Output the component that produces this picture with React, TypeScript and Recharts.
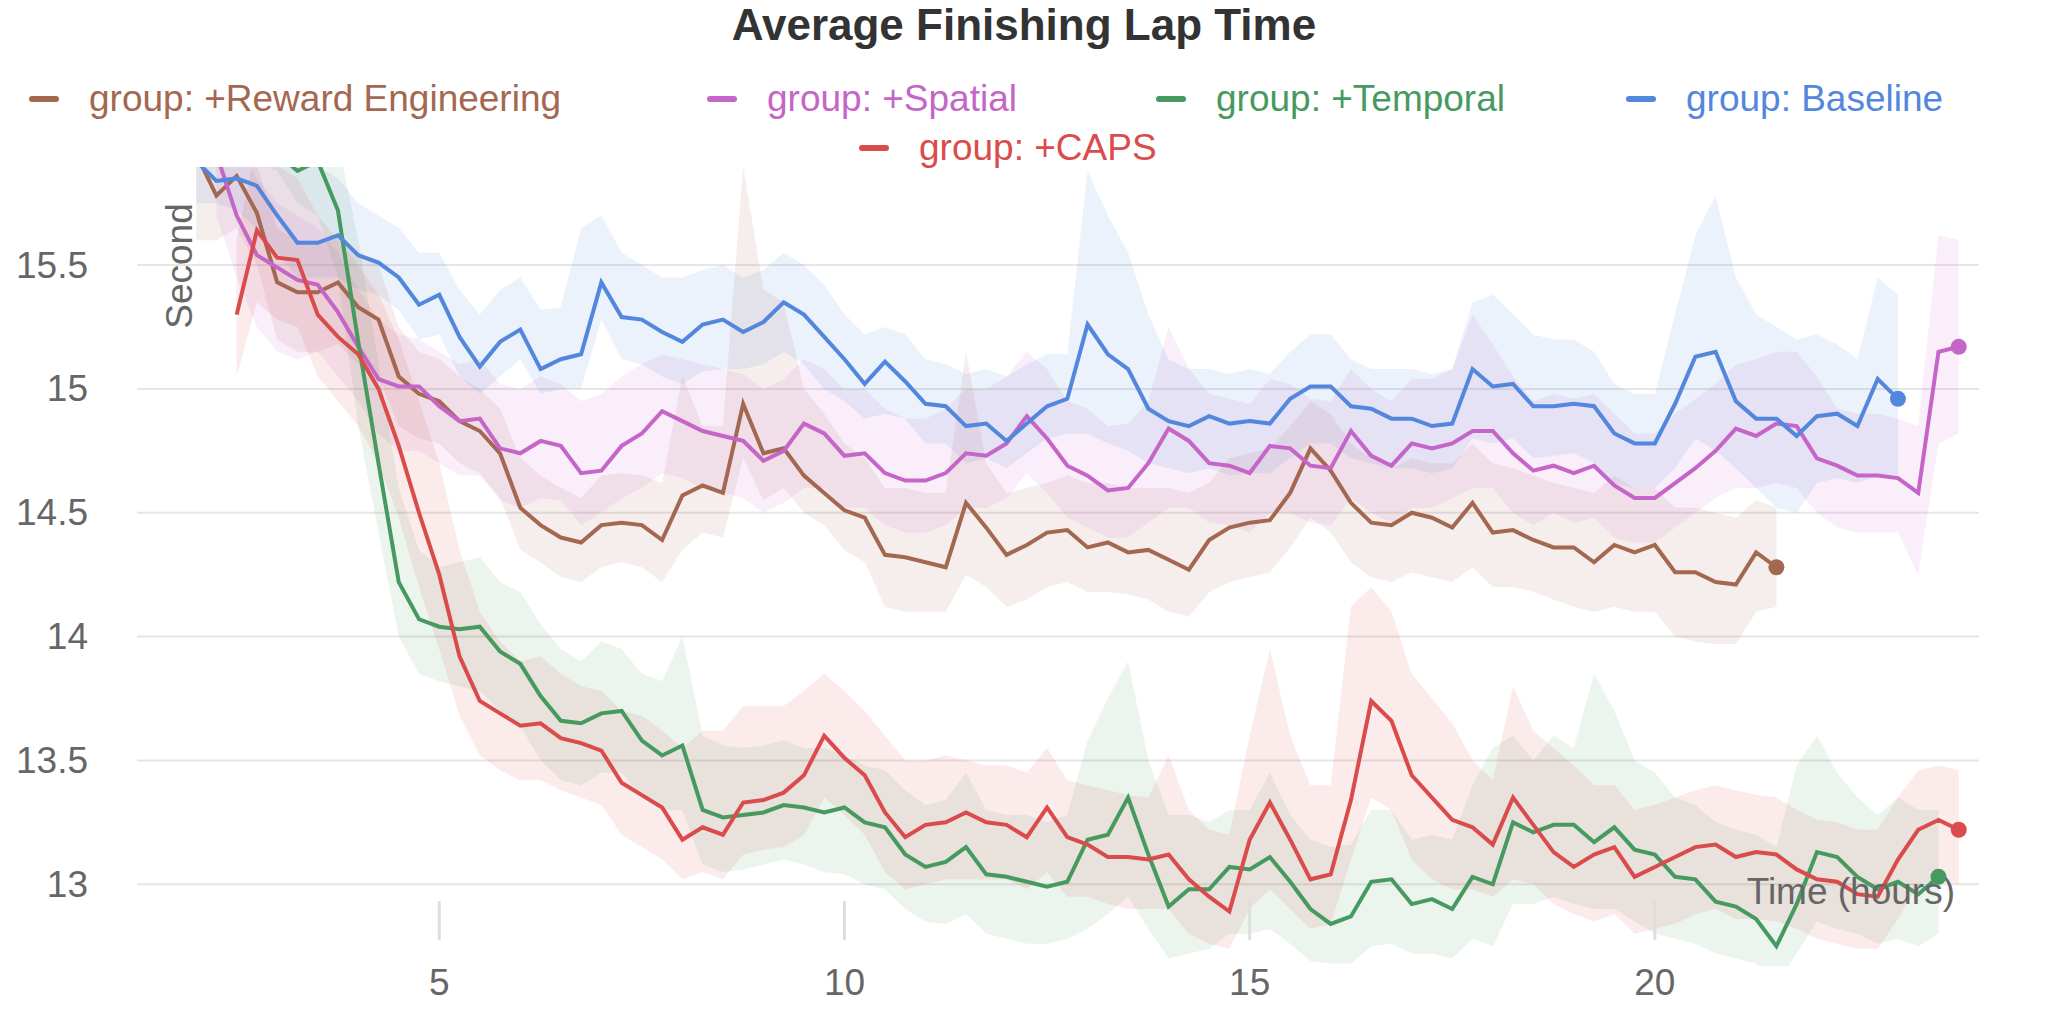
import React from 'react';
import { ComposedChart, Line, Area, XAxis, YAxis, CartesianGrid } from 'recharts';

// time axis, hours
const hours = [
  2, 2.25, 2.5, 2.75, 3, 3.25, 3.5, 3.75, 4, 4.25, 4.5, 4.75, 5, 5.25, 5.5, 5.75, 6, 6.25, 6.5, 6.75,
  7, 7.25, 7.5, 7.75, 8, 8.25, 8.5, 8.75, 9, 9.25, 9.5, 9.75, 10, 10.25, 10.5, 10.75, 11, 11.25, 11.5, 11.75,
  12, 12.25, 12.5, 12.75, 13, 13.25, 13.5, 13.75, 14, 14.25, 14.5, 14.75, 15, 15.25, 15.5, 15.75, 16, 16.25, 16.5, 16.75,
  17, 17.25, 17.5, 17.75, 18, 18.25, 18.5, 18.75, 19, 19.25, 19.5, 19.75, 20, 20.25, 20.5, 20.75, 21, 21.25, 21.5, 21.75,
  22, 22.25, 22.5, 22.75, 23, 23.25, 23.5, 23.75,
];

const N9 = [null, null, null, null, null, null, null, null, null];

// group: +Reward Engineering
const rewardMean = [
  15.95, 15.78, 15.86, 15.71, 15.43, 15.39, 15.39, 15.43, 15.33, 15.28, 15.05, 14.98, 14.95, 14.87, 14.83, 14.74, 14.52, 14.45, 14.4, 14.38, 14.45,
  14.46, 14.45, 14.39, 14.57, 14.61, 14.58, 14.94, 14.74, 14.76, 14.65, 14.58, 14.51, 14.48, 14.33, 14.32, 14.3, 14.28, 14.54, 14.44, 14.33, 14.37, 14.42, 14.43,
  14.36, 14.38, 14.34, 14.35, 14.31, 14.27, 14.39, 14.44, 14.46, 14.47, 14.58, 14.76, 14.67, 14.54, 14.46, 14.45, 14.5, 14.48, 14.44, 14.54, 14.42, 14.43, 14.39,
  14.36, 14.36, 14.3, 14.37, 14.34, 14.37, 14.26, 14.26, 14.22, 14.21, 14.34, 14.28, ...N9,
];
const rewardHi = [
  16.0, 16.0, 16.0, 15.9, 15.65, 15.6, 15.6, 15.62, 15.55, 15.5, 15.25, 15.15, 15.12, 15.05, 15.0, 14.92, 14.72, 14.65, 14.6, 14.56, 14.65,
  14.66, 14.65, 14.62, 15.05, 14.85, 14.85, 15.9, 15.4, 15.35, 15.0, 14.9, 14.78, 14.72, 14.6, 14.6, 14.58, 14.58, 15.15, 14.7, 14.58, 14.6, 14.62, 14.65,
  14.62, 14.62, 14.6, 14.6, 14.6, 14.58, 14.62, 14.72, 14.74, 14.76, 14.85, 14.95, 14.9, 14.78, 14.72, 14.68, 14.72, 14.7, 14.7, 14.78, 14.7, 14.68, 14.65,
  14.62, 14.6, 14.58, 14.65, 14.6, 14.6, 14.52, 14.52, 14.5, 14.48, 14.55, 14.52, ...N9,
];
const rewardLo = [
  15.6, 15.6, 15.65, 15.5, 15.2, 15.15, 15.15, 15.18, 15.1, 15.05, 14.85, 14.8, 14.78, 14.7, 14.66, 14.56, 14.35, 14.3, 14.24, 14.22, 14.28,
  14.3, 14.28, 14.22, 14.35, 14.42, 14.4, 14.72, 14.55, 14.6, 14.5, 14.45, 14.35, 14.3, 14.12, 14.1, 14.1, 14.1, 14.25, 14.2, 14.12, 14.15, 14.2, 14.22,
  14.18, 14.18, 14.17, 14.15, 14.1, 14.08, 14.18, 14.22, 14.24, 14.26, 14.36, 14.48, 14.42, 14.3, 14.24, 14.22, 14.26, 14.24, 14.22, 14.28, 14.2, 14.2, 14.18,
  14.15, 14.12, 14.1, 14.12, 14.1, 14.1, 14.0, 13.98, 13.97, 13.97, 14.1, 14.12, ...N9,
];

// group: +Spatial
const spatialMean = [
  null, 15.95, 15.7, 15.54, 15.49, 15.44, 15.42, 15.31, 15.17, 15.04, 15.01, 15.01, 14.93, 14.87, 14.88, 14.76, 14.74, 14.79, 14.77, 14.66, 14.67,
  14.77, 14.82, 14.91, 14.87, 14.83, 14.81, 14.79, 14.71, 14.75, 14.86, 14.82, 14.73, 14.74, 14.66, 14.63, 14.63, 14.66, 14.74, 14.73, 14.78, 14.89, 14.8, 14.69,
  14.65, 14.59, 14.6, 14.7, 14.84, 14.79, 14.7, 14.69, 14.66, 14.77, 14.76, 14.69, 14.68, 14.83, 14.73, 14.69, 14.78, 14.76, 14.78, 14.83, 14.83, 14.74, 14.67,
  14.69, 14.66, 14.69, 14.61, 14.56, 14.56, 14.62, 14.68, 14.75, 14.84, 14.81, 14.86, 14.85, 14.72, 14.69, 14.65, 14.65, 14.64, 14.58, 15.15, 15.17,
];
const spatialHi = [
  null, 16.0, 16.0, 15.85, 15.75, 15.7, 15.65, 15.55, 15.4, 15.28, 15.22, 15.2, 15.15, 15.1, 15.12, 15.02, 15.0, 15.05, 15.02, 14.95, 14.98,
  15.05, 15.1, 15.14, 15.12, 15.1, 15.08, 15.06, 15.0, 15.04, 15.12, 15.08, 15.0, 15.0, 14.92, 14.88, 14.88, 14.92, 15.0, 15.0, 15.05, 15.15, 15.08, 14.95,
  14.92, 14.85, 14.86, 14.95, 15.25, 15.08, 14.98, 14.96, 14.94, 15.04, 15.02, 14.96, 14.95, 15.08, 15.0, 14.95, 15.04, 15.04, 15.08, 15.3, 15.18, 15.05, 14.95,
  14.98, 14.96, 14.98, 14.9, 14.82, 14.82, 14.9, 14.96, 15.02, 15.1, 15.12, 15.15, 15.15, 15.05, 14.92, 14.9, 14.9, 14.88, 14.85, 15.62, 15.6,
];
const spatialLo = [
  null, 15.7, 15.45, 15.25, 15.15, 15.12, 15.15, 15.05, 14.95, 14.82, 14.75, 14.75, 14.7, 14.65, 14.65, 14.55, 14.52, 14.56, 14.55, 14.45, 14.5,
  14.56, 14.6, 14.66, 14.64, 14.6, 14.58, 14.56, 14.5, 14.54, 14.6, 14.6, 14.52, 14.52, 14.45, 14.42, 14.42, 14.45, 14.52, 14.52, 14.56, 14.66, 14.58, 14.48,
  14.44, 14.4, 14.4, 14.46, 14.52, 14.52, 14.46, 14.45, 14.42, 14.5, 14.5, 14.46, 14.45, 14.56, 14.5, 14.46, 14.52, 14.52, 14.56, 14.6, 14.6, 14.5, 14.45,
  14.5, 14.46, 14.48, 14.4, 14.38, 14.38, 14.44, 14.5, 14.56, 14.6, 14.6, 14.62, 14.6, 14.5, 14.44, 14.42, 14.42, 14.42, 14.25, 14.78, 14.82,
];

// group: +Temporal
const temporalMean = [
  16.1, 16.05, 16.0, 15.98, 15.95, 15.88, 15.92, 15.72, 15.19, 14.7, 14.22, 14.07, 14.04, 14.03, 14.04, 13.94, 13.89, 13.76, 13.66, 13.65, 13.69,
  13.7, 13.58, 13.52, 13.56, 13.3, 13.27, 13.28, 13.29, 13.32, 13.31, 13.29, 13.31, 13.25, 13.23, 13.12, 13.07, 13.09, 13.15, 13.04, 13.03, 13.01, 12.99, 13.01,
  13.18, 13.2, 13.35, 13.12, 12.91, 12.98, 12.98, 13.07, 13.06, 13.11, 13.01, 12.9, 12.84, 12.87, 13.01, 13.02, 12.92, 12.94, 12.9, 13.03, 13.0, 13.25, 13.21,
  13.24, 13.24, 13.17, 13.23, 13.14, 13.12, 13.03, 13.02, 12.93, 12.91, 12.86, 12.75, 12.92, 13.13, 13.11, 13.03, 12.98, 13.01, 12.96, 13.03, null,
];
const temporalHi = [
  16.2, 16.2, 16.2, 16.2, 16.2, 16.1, 16.1, 16.0, 15.6, 15.1, 14.6, 14.35, 14.28, 14.3, 14.32, 14.22, 14.18, 14.05, 13.95, 13.9, 13.98,
  13.95, 13.85, 13.82, 14.0, 13.6, 13.56, 13.55, 13.56, 13.58, 13.55, 13.55, 13.52, 13.48, 13.46, 13.38, 13.32, 13.34, 13.45, 13.3, 13.28, 13.28, 13.25, 13.28,
  13.58, 13.75, 13.9, 13.5, 13.28, 13.28, 13.25, 13.3, 13.3, 13.45, 13.28, 13.18, 13.15, 13.16, 13.3, 13.3, 13.18, 13.2, 13.18, 13.4, 13.55, 13.6, 13.5,
  13.6, 13.55, 13.85, 13.7, 13.5, 13.45, 13.35, 13.32, 13.25, 13.22, 13.2, 13.15, 13.48, 13.6, 13.45, 13.35, 13.28, 13.35, 13.3, 13.3, null,
];
const temporalLo = [
  16.0, 16.0, 15.95, 15.92, 15.88, 15.75, 15.7, 15.45, 14.85, 14.42, 14.0, 13.85, 13.82, 13.8, 13.78, 13.7, 13.64, 13.5, 13.42, 13.4, 13.45,
  13.45, 13.35, 13.3, 13.3, 13.08, 13.05, 13.06, 13.08, 13.1, 13.08, 13.05, 13.04, 13.0, 12.98, 12.9, 12.85, 12.84, 12.88, 12.8, 12.78, 12.76, 12.76, 12.78,
  12.82, 12.88, 12.95, 12.82, 12.7, 12.72, 12.74, 12.8, 12.8, 12.82, 12.76, 12.69, 12.68, 12.68, 12.75, 12.76, 12.72, 12.72, 12.7, 12.78, 12.75, 12.92, 12.92,
  12.95, 12.92, 12.9, 12.9, 12.85, 12.8, 12.78, 12.76, 12.72, 12.7, 12.68, 12.6, 12.72, 12.85, 12.82, 12.8, 12.76, 12.78, 12.75, 12.8, null,
];

// group: Baseline
const baselineMean = [
  15.92, 15.84, 15.85, 15.82, 15.7, 15.59, 15.59, 15.62, 15.54, 15.51, 15.45, 15.34, 15.38, 15.21, 15.09, 15.19, 15.24, 15.08, 15.12, 15.14, 15.43,
  15.29, 15.28, 15.23, 15.19, 15.26, 15.28, 15.23, 15.27, 15.35, 15.3, 15.21, 15.12, 15.02, 15.11, 15.03, 14.94, 14.93, 14.85, 14.86, 14.79, 14.86, 14.93, 14.96,
  15.26, 15.14, 15.08, 14.92, 14.87, 14.85, 14.89, 14.86, 14.87, 14.86, 14.96, 15.01, 15.01, 14.93, 14.92, 14.88, 14.88, 14.85, 14.86, 15.08, 15.01, 15.02, 14.93,
  14.93, 14.94, 14.93, 14.82, 14.78, 14.78, 14.94, 15.13, 15.15, 14.95, 14.88, 14.88, 14.81, 14.89, 14.9, 14.85, 15.04, 14.96, null, null, null,
];
const baselineHi = [
  16.0, 16.0, 16.0, 16.0, 15.95, 15.9, 15.9, 15.85, 15.75, 15.7, 15.65, 15.55, 15.55, 15.4, 15.3, 15.4, 15.45, 15.32, 15.33, 15.65, 15.7,
  15.55, 15.5, 15.45, 15.45, 15.48, 15.5, 15.45, 15.48, 15.55, 15.5, 15.42, 15.3, 15.22, 15.25, 15.22, 15.12, 15.1, 15.06, 15.08, 15.05, 15.1, 15.14, 15.14,
  15.88, 15.7, 15.55, 15.3, 15.12, 15.08, 15.08, 15.06, 15.08, 15.06, 15.15, 15.22, 15.22, 15.12, 15.08, 15.08, 15.08, 15.06, 15.08, 15.35, 15.38, 15.3, 15.22,
  15.2, 15.2, 15.15, 15.02, 14.98, 14.98, 15.3, 15.62, 15.78, 15.45, 15.3, 15.25, 15.2, 15.22, 15.18, 15.12, 15.45, 15.38, null, null, null,
];
const baselineLo = [
  15.75, 15.75, 15.72, 15.65, 15.55, 15.45, 15.45, 15.45, 15.4, 15.38, 15.32, 15.2, 15.22, 15.05, 14.98, 15.05, 15.12, 14.98, 15.0, 15.0, 15.28,
  15.12, 15.1, 15.05, 15.02, 15.07, 15.08, 15.08, 15.1, 15.15, 15.1, 15.0, 14.95, 14.88, 14.9, 14.88, 14.78, 14.78, 14.7, 14.72, 14.68, 14.74, 14.8, 14.82,
  14.82, 14.78, 14.75, 14.7, 14.68, 14.66, 14.68, 14.65, 14.66, 14.66, 14.72, 14.78, 14.78, 14.72, 14.7, 14.68, 14.68, 14.66, 14.68, 14.8, 14.78, 14.8, 14.72,
  14.73, 14.74, 14.7, 14.62, 14.6, 14.6, 14.68, 14.8, 14.75, 14.68, 14.6, 14.52, 14.5, 14.62, 14.64, 14.62, 14.65, 14.65, null, null, null,
];

// group: +CAPS
const capsMean = [
  null, null, 15.3, 15.64, 15.53, 15.52, 15.3, 15.21, 15.14, 15.0, 14.77, 14.5, 14.25, 13.92, 13.74, 13.69, 13.64, 13.65, 13.59, 13.57, 13.54,
  13.41, 13.36, 13.31, 13.18, 13.23, 13.2, 13.33, 13.34, 13.37, 13.44, 13.6, 13.51, 13.44, 13.29, 13.19, 13.24, 13.25, 13.29, 13.25, 13.24, 13.19, 13.31, 13.19,
  13.16, 13.11, 13.11, 13.1, 13.12, 13.02, 12.95, 12.89, 13.18, 13.33, 13.18, 13.02, 13.04, 13.34, 13.74, 13.66, 13.44, 13.35, 13.26, 13.23, 13.16, 13.35, 13.24,
  13.13, 13.07, 13.12, 13.15, 13.03, 13.07, 13.11, 13.15, 13.16, 13.11, 13.13, 13.12, 13.06, 13.02, 13.01, 12.96, 12.95, 13.1, 13.22, 13.26, 13.22,
];
const capsHi = [
  null, null, 15.6, 16.0, 15.9, 15.85, 15.7, 15.6, 15.5, 15.38, 15.2, 14.95, 14.7, 14.35, 14.1, 13.98, 13.9, 13.92, 13.85, 13.8, 13.78,
  13.7, 13.68, 13.62, 13.55, 13.62, 13.62, 13.72, 13.72, 13.72, 13.78, 13.85, 13.78, 13.7, 13.6, 13.5, 13.5, 13.52, 13.5, 13.48, 13.48, 13.45, 13.55, 13.42,
  13.4, 13.38, 13.36, 13.35, 13.52, 13.3, 13.22, 13.2, 13.6, 13.95, 13.6, 13.4, 13.4, 14.12, 14.2, 14.1, 13.85, 13.75, 13.65, 13.5, 13.42, 13.8, 13.62,
  13.55, 13.48, 13.4, 13.4, 13.3, 13.32, 13.35, 13.38, 13.4, 13.38, 13.36, 13.35, 13.3, 13.26, 13.25, 13.22, 13.22, 13.35, 13.46, 13.48, 13.46,
];
const capsLo = [
  null, null, 15.05, 15.35, 15.28, 15.25, 15.05, 14.95, 14.85, 14.7, 14.48, 14.2, 13.95, 13.68, 13.52, 13.46, 13.42, 13.42, 13.38, 13.35, 13.32,
  13.2, 13.15, 13.1, 13.02, 13.05, 13.02, 13.12, 13.14, 13.15, 13.2, 13.35, 13.28, 13.2, 13.05, 12.98, 13.0, 13.02, 13.02, 13.02, 13.02, 12.98, 13.05, 12.95,
  12.95, 12.92, 12.9, 12.9, 12.9, 12.8, 12.76, 12.74, 12.9, 12.98, 12.9, 12.82, 12.84, 13.1, 13.35, 13.3, 13.1, 13.02, 12.98, 12.98, 12.95, 13.02, 13.0,
  12.92, 12.88, 12.85, 12.88, 12.8, 12.82, 12.84, 12.88, 12.9, 12.86, 12.86, 12.85, 12.82, 12.78, 12.76, 12.74, 12.74, 12.86, 13.0, 13.02, 13.0,
];

const yTicks = [13, 13.5, 14, 14.5, 15, 15.5];
const xTicks = [5, 10, 15, 20];

const series = [
  { key: 'reward', name: 'group: +Reward Engineering', color: '#a46750', mean: rewardMean, lo: rewardLo, hi: rewardHi },
  { key: 'spatial', name: 'group: +Spatial', color: '#c565c7', mean: spatialMean, lo: spatialLo, hi: spatialHi },
  { key: 'temporal', name: 'group: +Temporal', color: '#479a5f', mean: temporalMean, lo: temporalLo, hi: temporalHi },
  { key: 'baseline', name: 'group: Baseline', color: '#5387dd', mean: baselineMean, lo: baselineLo, hi: baselineHi },
  { key: 'caps', name: 'group: +CAPS', color: '#da4c4c', mean: capsMean, lo: capsLo, hi: capsHi },
];

const data = hours.map((t, i) => {
  const row: any = { t };
  series.forEach((s) => {
    const v = s.mean[i];
    row[s.key] = v;
    row[s.key + 'Band'] = v == null ? null : [s.lo[i], s.hi[i]];
  });
  return row;
});

const lastIndex = (arr: (number | null)[]) => {
  let last = -1;
  arr.forEach((v, i) => {
    if (v != null) last = i;
  });
  return last;
};

const FONT = '"Liberation Sans", Arial, Helvetica, sans-serif';
const GRAY = '#666';

// legend item slots (left of swatch, row centre)
const legendSlots = [
  { x: 29, y: 99 },
  { x: 707, y: 99 },
  { x: 1156, y: 99 },
  { x: 1626, y: 99 },
  { x: 859, y: 148 },
];

const YTick = ({ y, payload }: any) => (
  <text x={88} y={y} textAnchor="end" dominantBaseline="central" fontSize={37} fill={GRAY} fontFamily={FONT}>
    {payload.value}
  </text>
);

const XTick = ({ x, payload }: any) => (
  <g>
    <line x1={x} x2={x} y1={901} y2={940} stroke="#dedede" strokeWidth={3} />
    <text x={x} y={982} textAnchor="middle" dominantBaseline="central" fontSize={37} fill={GRAY} fontFamily={FONT}>
      {payload.value}
    </text>
  </g>
);

export default function App() {
  return (
    <div style={{ position: 'relative', width: 2048, height: 1024, fontFamily: FONT, background: '#fff' }}>
      <style>{'body{margin:0}'}</style>
      <div
        style={{
          position: 'absolute',
          top: 0,
          left: 0,
          width: 2048,
          lineHeight: '50px',
          textAlign: 'center',
          fontSize: 44,
          fontWeight: 700,
          color: '#333',
        }}
      >
        Average Finishing Lap Time
      </div>
      {series.map((s, i) => (
        <div
          key={s.key}
          style={{
            position: 'absolute',
            left: legendSlots[i].x,
            top: legendSlots[i].y - 22,
            height: 44,
            display: 'flex',
            alignItems: 'center',
            whiteSpace: 'nowrap',
            fontSize: 37,
            color: s.color,
          }}
        >
          <span style={{ width: 30, height: 6, borderRadius: 3, background: s.color, marginRight: 30 }} />
          <span>{s.name}</span>
        </div>
      ))}
      <ComposedChart width={2048} height={1024} data={data} margin={{ top: 167, right: 69, bottom: 0, left: 0 }}>
        <CartesianGrid vertical={false} horizontalValues={yTicks} stroke="#e6e6e6" strokeWidth={2} />
        <XAxis
          dataKey="t"
          type="number"
          domain={[1.27, 24]}
          ticks={xTicks}
          height={58}
          axisLine={false}
          tickLine={false}
          tick={(p: any) => <XTick {...p} />}
          label={{
            content: () => (
              <text x={1955} y={891} textAnchor="end" dominantBaseline="central" fontSize={37} fill={GRAY} fontFamily={FONT}>
                Time (hours)
              </text>
            ),
          }}
        />
        <YAxis
          type="number"
          domain={[12.67, 15.896]}
          allowDataOverflow
          ticks={yTicks}
          width={137}
          axisLine={false}
          tickLine={false}
          tick={(p: any) => <YTick {...p} />}
          label={{
            content: () => (
              <text
                x={179}
                y={266}
                transform="rotate(-90 179 266)"
                textAnchor="middle"
                dominantBaseline="central"
                fontSize={37}
                fill={GRAY}
                fontFamily={FONT}
              >
                Second
              </text>
            ),
          }}
        />
        {series.map((s) => (
          <Area
            key={s.key + 'Band'}
            type="linear"
            dataKey={s.key + 'Band'}
            stroke="none"
            fill={s.color}
            fillOpacity={0.11}
            activeDot={false}
            isAnimationActive={false}
          />
        ))}
        {series.map((s) => {
          const last = lastIndex(s.mean);
          return (
            <Line
              key={s.key}
              type="linear"
              dataKey={s.key}
              stroke={s.color}
              strokeWidth={4}
              activeDot={false}
              isAnimationActive={false}
              dot={(p: any) =>
                p.index === last ? (
                  <circle key={p.index} cx={p.cx} cy={p.cy} r={8} fill={s.color} />
                ) : (
                  <g key={p.index} />
                )
              }
            />
          );
        })}
      </ComposedChart>
    </div>
  );
}
